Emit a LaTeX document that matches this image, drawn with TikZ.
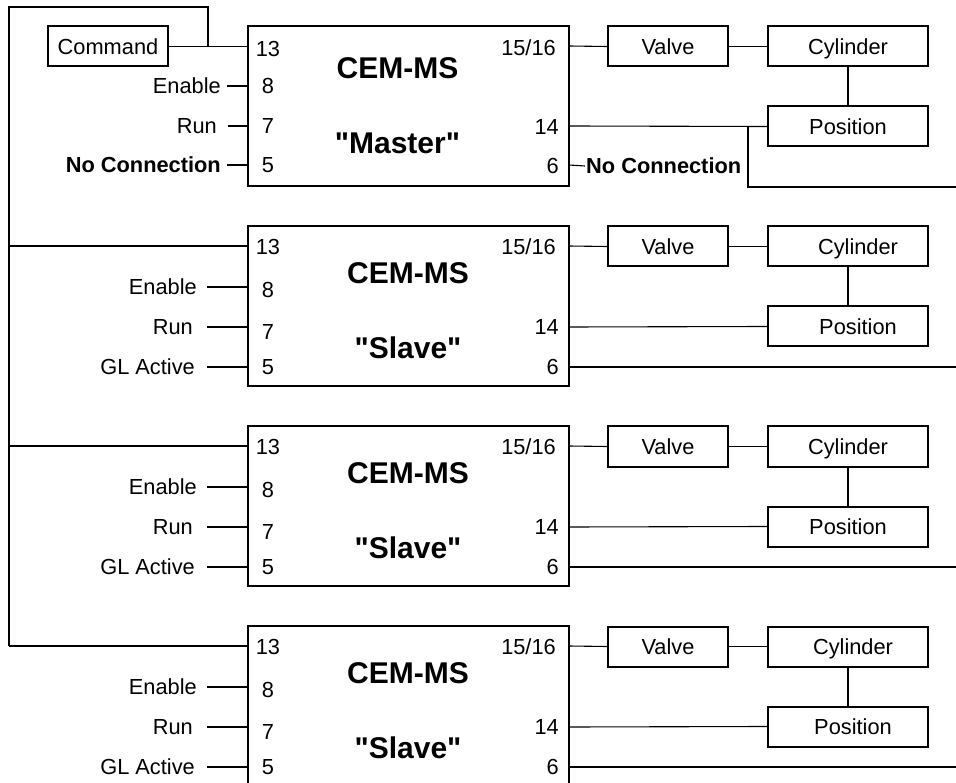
\documentclass[tikz,border=0pt]{standalone}
\usepackage{fontspec}
\setmainfont{Liberation Sans}
\begin{document}
\begin{tikzpicture}[x=1pt,y=-1pt,
  txt/.style={font=\fontsize{21.8}{24}\selectfont, inner sep=0pt, text height=15.6pt, text depth=0pt},
  btxt/.style={txt, font=\fontsize{21.8}{24}\selectfont\bfseries},
  ttl/.style={font=\fontsize{30}{33}\selectfont\bfseries, inner sep=0pt, text height=21.5pt, text depth=0pt},
  blk/.style={draw, line width=2pt, minimum width=321pt, minimum height=160pt, inner sep=0pt},
  sbox/.style={txt, draw, line width=2pt, minimum height=40pt},
  wire/.style={line width=1.1pt}]
\useasboundingbox (0,0) rectangle (956,783);
\clip (0,0) rectangle (956,783);

% ---------------- Master ----------------
\node[blk] (M) at (408.5,106) {};
\node[ttl] (Mt1) at (397.5,68) {CEM-MS};
\node[ttl] (Mt2) at (397.5,143) {\textquotedbl Master\textquotedbl};
\node[txt] (Mn13) at (268,49) {13};
\node[txt] (Mn8) at (268,86) {8};
\node[txt] (Mn7) at (268,126) {7};
\node[txt] (Mn5) at (268,165) {5};
\node[txt, anchor=east] (Mn1516) at (556,48) {15/16};
\node[txt, anchor=east] (Mn14) at (559,127) {14};
\node[txt, anchor=east] (Mn6) at (559,166) {6};

\coordinate (Mp13) at (248,46.5);
\coordinate (Mp8) at (248,86);
\coordinate (Mp7) at (248,126);
\coordinate (Mp5) at (248,165);
\coordinate (Mq1516) at (569,46);
\coordinate (Mq14) at (569,126);
\coordinate (Mq6) at (569,165);

\node[sbox, minimum width=120pt] (cmd) at (108,46.5) {Command};
\draw[wire] (cmd.east) -- (Mp13);
\coordinate (jn) at (208,46.5);
\coordinate (tl) at (9,7);
\coordinate (B3) at (9,646);
\draw[wire] (jn) |- (tl) -- (B3);

\node[txt, anchor=east, inner xsep=6pt] (ME) at (227,86) {Enable};
\node[txt, anchor=east, inner xsep=11pt] (MR) at (228,126) {Run};
\node[btxt, anchor=east, inner xsep=6pt] (MN) at (227,165) {No Connection};
\draw[wire] (ME.east) -- (Mp8);
\draw[wire] (MR.east) -- (Mp7);
\draw[wire] (MN.east) -- (Mp5);

\node[sbox, minimum width=120pt] (V0) at (668,46.5) {Valve};
\node[sbox, minimum width=160pt] (C0) at (848,46.5) {Cylinder};
\node[sbox, minimum width=160pt] (P0) at (848,126.5) {Position};
\draw[wire] (Mq1516) -- (V0.west);
\draw[wire] (V0.east) -- (C0.west);
\draw[wire] (C0.south) -- (P0.north);
\draw[wire] (Mq14) -- (P0.west);
\coordinate (br) at (748,126);
\coordinate (brend) at (956,187);
\draw[wire] (br) |- (brend);
\node[btxt, anchor=west, inner xsep=1pt] (MN6) at (585,166) {No Connection};
\draw[wire] (Mq6) -- (MN6.west);

% ---------------- Slaves ----------------
\foreach \i/\T/\dx in {1/226/20, 2/426/0, 3/626/10} {
  \node[blk] (S\i) at (408.5,\T+80) {};
  \node[ttl] (S\i t1) at (408,\T+47) {CEM-MS};
  \node[ttl] (S\i t2) at (408,\T+122) {\textquotedbl Slave\textquotedbl};
  \node[txt] (S\i n13) at (268,\T+21) {13};
  \node[txt] (S\i n8) at (268,\T+64) {8};
  \node[txt] (S\i n7) at (268,\T+106) {7};
  \node[txt] (S\i n5) at (268,\T+141) {5};
  \node[txt, anchor=east] (S\i n1516) at (556,\T+21) {15/16};
  \node[txt, anchor=east] (S\i n14) at (559,\T+101) {14};
  \node[txt, anchor=east] (S\i n6) at (559,\T+141) {6};

  \coordinate (S\i p13) at (248,\T+20);
  \coordinate (S\i p8) at (248,\T+61);
  \coordinate (S\i p7) at (248,\T+101);
  \coordinate (S\i p5) at (248,\T+141);
  \coordinate (S\i q1516) at (569,\T+20);
  \coordinate (S\i q14) at (569,\T+101);
  \coordinate (S\i q6) at (569,\T+141);
  \coordinate (S\i end6) at (956,\T+141);
  \coordinate (B\i s) at (9,\T+20);

  \draw[wire] (B\i s) -- (S\i p13);

  \node[txt, anchor=east, inner xsep=10pt] (S\i E) at (207,\T+61) {Enable};
  \node[txt, anchor=east, inner xsep=14pt] (S\i R) at (207,\T+101) {Run};
  \node[txt, anchor=east, inner xsep=12pt] (S\i G) at (207,\T+141) {GL Active};
  \draw[wire] (S\i E.east) -- (S\i p8);
  \draw[wire] (S\i R.east) -- (S\i p7);
  \draw[wire] (S\i G.east) -- (S\i p5);

  \node[sbox, minimum width=120pt] (V\i) at (668,\T+20.5) {Valve};
  \node[sbox, minimum width=160pt] (C\i) at (848,\T+20.5) {\hspace*{\dx pt}Cylinder};
  \node[sbox, minimum width=160pt] (P\i) at (848,\T+100.5) {\hspace*{\dx pt}Position};
  \draw[wire] (S\i q1516) -- (V\i.west);
  \draw[wire] (V\i.east) -- (C\i.west);
  \draw[wire] (C\i.south) -- (P\i.north);
  \draw[wire] (S\i q14) -- (P\i.west);
  \draw[wire] (S\i q6) -- (S\i end6);
}
\end{tikzpicture}
\end{document}
